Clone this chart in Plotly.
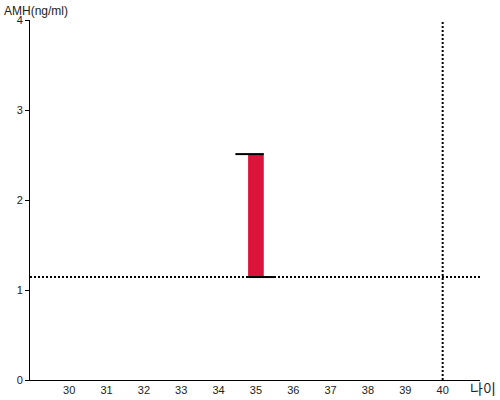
import plotly.graph_objects as go

# data
ages = [35]
amh_low = [1.144]
amh_high = [2.51]
ref_age = 40
ref_amh = 1.144
x_ticks = [30, 31, 32, 33, 34, 35, 36, 37, 38, 39, 40]
y_ticks = [0, 1, 2, 3, 4]

bar_w = 0.42
fig = go.Figure()
fig.add_trace(go.Bar(
    x=ages, y=[h - l for h, l in zip(amh_high, amh_low)], base=amh_low,
    width=bar_w, marker=dict(color="#DC143C", line=dict(width=0)),
    hoverinfo="skip"))
# caps
for a, lo, hi in zip(ages, amh_low, amh_high):
    fig.add_trace(go.Scatter(x=[a - 0.55, a + bar_w / 2], y=[hi, hi], mode="lines",
                             line=dict(color="black", width=2), hoverinfo="skip"))
    fig.add_trace(go.Scatter(x=[a - bar_w / 2, a + 0.52], y=[lo, lo], mode="lines",
                             line=dict(color="black", width=2), hoverinfo="skip"))

fig.add_shape(type="line", xref="x", yref="paper", x0=ref_age, x1=ref_age, y0=0, y1=1,
              line=dict(color="black", width=2, dash="2px,2px"))
fig.add_shape(type="line", xref="paper", yref="y", x0=0, x1=1, y0=ref_amh, y1=ref_amh,
              line=dict(color="black", width=2, dash="2px,2px"))

fig.update_layout(
    width=500, height=400, showlegend=False,
    margin=dict(l=30, r=20, t=20, b=20, autoexpand=False),
    plot_bgcolor="white", paper_bgcolor="white",
    font=dict(family="Liberation Sans, Arial, sans-serif", size=11, color="#222"),
    xaxis=dict(range=[28.95, 41.0], tickvals=x_ticks, showgrid=False, zeroline=False,
               showline=True, linecolor="black", linewidth=1, ticks="", ticklen=0,
               tickfont=dict(size=11), automargin=False),
    yaxis=dict(range=[0, 4], tickvals=y_ticks, showgrid=False, zeroline=False,
               showline=True, linecolor="black", linewidth=1, ticks="outside",
               ticklen=4, tickcolor="black", tickfont=dict(size=11), automargin=False),
    annotations=[
        dict(text="AMH(ng/ml)", xref="paper", yref="paper", x=0, y=1, xshift=-28, yshift=0,
             xanchor="left", yanchor="bottom", showarrow=False, font=dict(size=12)),
        dict(text="나이", xref="paper", yref="paper", x=1, y=0, xshift=18, yshift=-20,
             xanchor="right", yanchor="bottom", showarrow=False,
             font=dict(size=14, family="Noto Sans CJK KR")),
    ],
)
fig.write_html("out.html", config={"displayModeBar": False},
               post_script="document.body.style.margin='0';document.body.style.overflow='hidden';")
